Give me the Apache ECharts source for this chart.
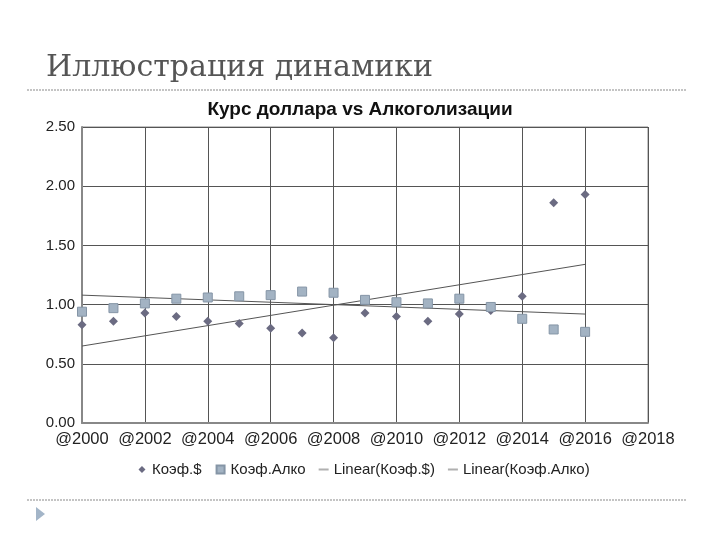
<!DOCTYPE html>
<html>
<head>
<meta charset="utf-8">
<script src="https://cdn.jsdelivr.net/npm/echarts@6/dist/echarts.min.js"></script>
<style>html,body{margin:0;padding:0;background:#fff}#c{width:720px;height:540px}</style>
</head>
<body>
<div id="c"></div>
<script>
var years = [2000,2001,2002,2003,2004,2005,2006,2007,2008,2009,2010,2011,2012,2013,2014,2015,2016];
var koefUsd = [0.83,0.86,0.93,0.90,0.86,0.84,0.80,0.76,0.72,0.93,0.90,0.86,0.92,0.95,1.07,1.86,1.93];
var koefAlco = [0.94,0.97,1.01,1.05,1.06,1.07,1.08,1.11,1.10,1.04,1.02,1.01,1.05,0.98,0.88,0.79,0.77];
var trendYears = [2000,2016];
var trendUsd = [0.65,1.34];
var trendAlco = [1.08,0.92];
var seriesNames = ['Коэф.$','Коэф.Алко','Linear(Коэф.$)','Linear(Коэф.Алко)'];
var yTicks = ['0.00','0.50','1.00','1.50','2.00','2.50'];

function pairs(xs, ys){ return xs.map(function(x,i){ return [x, ys[i]]; }); }

var chart = echarts.init(document.getElementById('c'), null, {renderer:'canvas'});
var lineIcon = 'path://M0,0 L0,0.01 M0,3.5 L10,3.5 L10,5.5 L0,5.5 Z M10,9 L10,9.01';
var diamondIcon = 'path://M0,0 L0,0.01 M5,1 L8.5,4.5 L5,8 L1.5,4.5 Z M10,9 L10,9.01';
var squareIcon = 'path://M0,0 L0,0.01 M1,0.5 L9,0.5 L9,8.5 L1,8.5 Z M10,9 L10,9.01';
chart.setOption({
  animation:false,
  backgroundColor:'#fff',
  title:[
    {text:'Иллюстрация динамики', left:41, top:48,
     textStyle:{fontFamily:'DejaVu Serif', fontSize:30, fontWeight:'normal', color:'#555'}},
    {text:'Курс доллара vs Алкоголизации', left:'center', top:95,
     textStyle:{fontFamily:'Liberation Sans', fontSize:19, fontWeight:'bold', color:'#111'}}
  ],
  graphic:[
    {type:'line', shape:{x1:27,y1:90,x2:687,y2:90}, style:{stroke:'#c4c4c4', lineWidth:2, lineDash:[2,1]}},
    {type:'line', shape:{x1:27,y1:500,x2:687,y2:500}, style:{stroke:'#c4c4c4', lineWidth:2, lineDash:[2,1]}},
    {type:'polygon', shape:{points:[[36,507],[45,514],[36,521]]}, style:{fill:'#a3b5c8'}}
  ],
  legend:{
    top:457, left:132, itemWidth:10, itemHeight:9, itemGap:13,
    textStyle:{fontFamily:'Liberation Sans', fontSize:15, color:'#222'},
    data:[
      {name:seriesNames[0], icon:diamondIcon, itemStyle:{color:'#6b6b82'}},
      {name:seriesNames[1], icon:squareIcon, itemStyle:{color:'#a3b3c3'}},
      {name:seriesNames[2], icon:lineIcon, itemStyle:{color:'#b0b0b0'}},
      {name:seriesNames[3], icon:lineIcon, itemStyle:{color:'#b0b0b0'}}
    ]
  },
  grid:{left:82, right:72, top:127, bottom:117, show:true, borderColor:'#888', borderWidth:1},
  xAxis:{
    type:'value', min:2000, max:2018, interval:2,
    axisLine:{show:true, onZero:false, lineStyle:{color:'#888', width:2}},
    axisTick:{show:false},
    axisLabel:{fontFamily:'Liberation Sans', fontSize:16.5, color:'#222', margin:8,
      formatter:function(v){ return '@'+v; }},
    splitLine:{show:true, lineStyle:{color:'#555', width:1}}
  },
  yAxis:{
    type:'value', min:0, max:2.5, interval:0.5,
    axisLine:{show:true, lineStyle:{color:'#888', width:2}},
    axisTick:{show:false},
    axisLabel:{fontFamily:'Liberation Sans', fontSize:15, color:'#222', margin:7,
      formatter:function(v){ return yTicks[Math.round(v/0.5)]; }},
    splitLine:{show:true, lineStyle:{color:'#555', width:1}}
  },
  series:[
    {name:seriesNames[2], type:'line', data:pairs(trendYears,trendUsd), symbol:'none',
     lineStyle:{color:'#555', width:1}, itemStyle:{color:'#b0b0b0'}, z:2},
    {name:seriesNames[3], type:'line', data:pairs(trendYears,trendAlco), symbol:'none',
     lineStyle:{color:'#555', width:1}, itemStyle:{color:'#b0b0b0'}, z:2},
    {name:seriesNames[0], type:'scatter', data:pairs(years,koefUsd), symbol:'diamond', symbolSize:[9,9],
     itemStyle:{color:'#6b6b82', opacity:1}, z:3},
    {name:seriesNames[1], type:'scatter', data:pairs(years,koefAlco), symbol:'rect', symbolSize:9,
     itemStyle:{color:'#a3b3c3', borderColor:'#8595a6', borderWidth:1, opacity:1}, z:4}
  ]
});
</script>
</body>
</html>
